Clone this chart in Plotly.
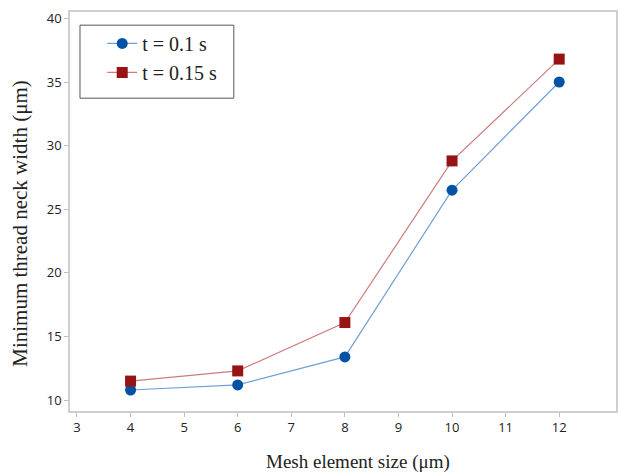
import plotly.graph_objects as go

mesh_size = [4, 6, 8, 10, 12]
width_t01 = [10.8, 11.2, 13.4, 26.5, 35.0]
width_t015 = [11.5, 12.3, 16.1, 28.8, 36.8]
series_names = ["t = 0.1 s", "t = 0.15 s"]
x_title = "Mesh element size (μm)"
y_title = "Minimum thread neck width (μm)"

serif = "Liberation Serif, Times New Roman, serif"

fig = go.Figure()
fig.add_trace(go.Scatter(
    x=mesh_size, y=width_t01, name=series_names[0], mode="lines+markers",
    line=dict(color="#6f9fd8", width=1.2),
    marker=dict(symbol="circle", size=11, color="#0052a5"),
))
fig.add_trace(go.Scatter(
    x=mesh_size, y=width_t015, name=series_names[1], mode="lines+markers",
    line=dict(color="#d07a7a", width=1.2),
    marker=dict(symbol="square", size=11, color="#981414"),
))

axis_common = dict(
    showgrid=False, zeroline=False, showline=True, linecolor="#cfcfcf", linewidth=1.5,
    mirror=True, ticks="outside", tickcolor="#bdbdbd", ticklen=4, automargin=False,
    tickfont=dict(family="Open Sans, DejaVu Sans, sans-serif", size=13, color="#222"),
)
fig.update_xaxes(range=[2.87, 13.06], tickvals=list(range(3, 13)), **axis_common)
fig.update_yaxes(range=[9.15, 40.5], tickvals=[10, 15, 20, 25, 30, 35, 40], **axis_common)

fig.add_annotation(text=x_title, xref="paper", yref="paper", x=0.527, y=-0.128,
                   xanchor="center", yanchor="middle", showarrow=False,
                   font=dict(family=serif, size=19, color="#222"))
fig.add_annotation(text=y_title, xref="paper", yref="paper", x=-0.091, y=0.47,
                   xanchor="center", yanchor="middle", showarrow=False, textangle=-90,
                   font=dict(family=serif, size=21, color="#222"))

# legend frame
fig.add_shape(type="rect", xref="paper", yref="paper", x0=0.0183, x1=0.300, y0=0.784, y1=0.967,
              line=dict(color="#555", width=1), fillcolor="white", layer="below")

fig.update_layout(
    width=618, height=472,
    margin=dict(l=70, r=2, t=12, b=61),
    plot_bgcolor="white", paper_bgcolor="white",
    legend=dict(
        x=0.059, y=0.97, xanchor="left", yanchor="top",
        borderwidth=0, bgcolor="rgba(0,0,0,0)",
        font=dict(family=serif, size=20, color="#222"),
        tracegroupgap=0,
    ),
    showlegend=True,
)
fig.write_html("out.html", config={"displayModeBar": False},
               post_script="document.body.style.margin='0';document.body.style.overflow='hidden';")
